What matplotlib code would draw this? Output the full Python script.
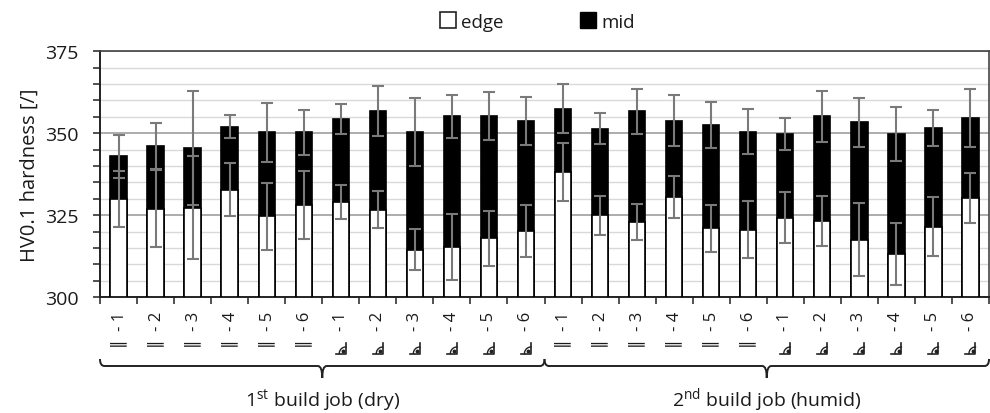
import matplotlib
matplotlib.use("Agg")
import matplotlib.pyplot as plt
import matplotlib.transforms as mtrans
from matplotlib.path import Path
from matplotlib.patches import PathPatch
from matplotlib.lines import Line2D
import numpy as np

plt.rcParams["font.family"] = ["Open Sans", "DejaVu Sans"]
plt.rcParams["mathtext.fontset"] = "custom"
plt.rcParams["mathtext.rm"] = "Open Sans"

# specimen labels: orientation symbol + number, two build jobs
PARALLEL, ANGLED = "\u2225", "\u299d"
orient = [PARALLEL] * 6 + [ANGLED] * 6
numbers = [1, 2, 3, 4, 5, 6] * 2
groups = ["1$^{\\mathrm{st}}$ build job (dry)", "2$^{\\mathrm{nd}}$ build job (humid)"]

mid = [342.9, 346.0, 345.5, 352.0, 350.2, 350.2, 354.4, 356.7, 350.4, 355.1, 355.1, 353.8,
       357.4, 351.4, 356.6, 353.8, 352.4, 350.4, 349.7, 355.1, 353.3, 349.8, 351.7, 354.7]
mid_err = [6.6, 7.0, 17.4, 3.6, 9.0, 7.0, 4.6, 7.7, 10.3, 6.6, 7.3, 7.3,
           7.5, 4.6, 6.9, 7.7, 7.0, 6.9, 4.8, 7.7, 7.5, 8.3, 5.5, 8.8]
edge = [329.8, 327.0, 327.2, 332.8, 324.7, 328.1, 328.9, 326.7, 314.5, 315.2, 318.0, 320.2,
        338.2, 324.9, 322.9, 330.4, 321.0, 320.6, 324.2, 323.2, 317.5, 313.2, 321.4, 330.1]
edge_err = [8.5, 11.7, 15.7, 8.0, 10.2, 10.5, 5.2, 5.7, 6.2, 10.0, 8.4, 7.9,
            8.9, 6.0, 5.4, 6.4, 7.2, 8.6, 7.8, 7.7, 11.1, 9.4, 9.0, 7.6]

base = 300
x = np.arange(len(mid))
w = 0.44
txt = "#1a1a1a"
ink = "#222222"

fig = plt.figure(figsize=(9.9, 4.14), dpi=100)
ax = fig.add_axes([0.101, 0.280, 0.898, 0.594])

ax.bar(x, np.array(mid) - base, w, bottom=base, color="black", edgecolor="black",
       linewidth=1.2, zorder=3)
ax.bar(x, np.array(edge) - base, w, bottom=base, color="white", edgecolor="black",
       linewidth=1.2, zorder=4)
ax.errorbar(x, mid, yerr=mid_err, fmt="none", ecolor="#7a7a7a", elinewidth=1.5,
            capsize=4, capthick=1.5, zorder=5)
ax.errorbar(x, edge, yerr=edge_err, fmt="none", ecolor="#7a7a7a", elinewidth=1.5,
            capsize=4, capthick=1.5, zorder=5)

ax.set_ylim(300, 375)
ax.set_xlim(-0.5, len(mid) - 0.5)
ax.set_yticks([300, 325, 350, 375])
ax.set_yticks(np.arange(300, 376, 5), minor=True)
ax.yaxis.grid(True, which="minor", color="#d9d9d9", linewidth=1.0, zorder=0)
ax.yaxis.grid(True, which="major", color="#a6a6a6", linewidth=1.3, zorder=1)
ax.set_axisbelow(True)
ax.tick_params(axis="y", which="both", direction="out", length=5, width=1.2,
               color="#333333", labelsize=14, labelcolor=txt, pad=10.5)
ax.set_ylabel("HV0.1 hardness [/]", fontsize=14.5, color=txt, labelpad=4)

# the measured-right-angle sign is missing from every installed font,
# so those labels carry only "- n" and the sign is drawn below them
labels = [f"{o}  - {n}" if o == PARALLEL else f"- {n}"
          for o, n in zip(orient, numbers)] * 2
ax.set_xticks(x)
ax.set_xticklabels(labels, rotation=90, fontsize=12, color=txt)
ax.set_xticks(np.arange(-0.5, len(mid), 1), minor=True)
ax.tick_params(axis="x", which="major", length=0, pad=10)
ax.tick_params(axis="x", which="minor", direction="out", length=5, width=1.2,
               color="#333333")

blend = mtrans.blended_transform_factory(ax.transData, fig.transFigure)
th = np.linspace(np.pi / 2, np.pi, 24)
px = 1 / fig.dpi
for xi, o in zip(x, orient * 2):
    if o != ANGLED:
        continue
    tr = fig.dpi_scale_trans + mtrans.ScaledTranslation(xi, 1 - 349 / 414, blend)
    fig.add_artist(Line2D(np.array([-5, 5, 5]) * px, np.array([-5.5, -5.5, 5.5]) * px,
                          color=ink, linewidth=1.2, transform=tr))
    fig.add_artist(Line2D((5 + 6.5 * np.cos(th)) * px, (-5.5 + 6.5 * np.sin(th)) * px,
                          color=ink, linewidth=1.0, transform=tr))
    fig.add_artist(Line2D([2.3 * px], [-3.2 * px], marker="o", markersize=1.8,
                          color=ink, linestyle="none", transform=tr))

for side in ["left", "bottom"]:
    ax.spines[side].set_linewidth(1.4)
    ax.spines[side].set_color(ink)
for side in ["top", "right"]:
    ax.spines[side].set_linewidth(1.2)
    ax.spines[side].set_color("#444444")

# curly braces and group captions under the tick labels
y_end, y_line, y_tip = 1 - 360 / 414, 1 - 367 / 414, 1 - 379 / 414
r = 0.12
n_per = len(mid) // len(groups)
for gi, name in enumerate(groups):
    x0 = gi * n_per - 0.5
    x1 = x0 + n_per
    xm = (x0 + x1) / 2
    verts = [(x0, y_end), (x0, y_line), (x0 + r, y_line),
             (xm - r, y_line), (xm, y_line), (xm, y_tip),
             (xm, y_line), (xm + r, y_line),
             (x1 - r, y_line), (x1, y_line), (x1, y_end)]
    codes = [Path.MOVETO, Path.CURVE3, Path.CURVE3,
             Path.LINETO, Path.CURVE3, Path.CURVE3,
             Path.CURVE3, Path.CURVE3,
             Path.LINETO, Path.CURVE3, Path.CURVE3]
    ax.add_patch(PathPatch(Path(verts, codes), transform=blend, fill=False,
                           edgecolor=ink, linewidth=1.4, clip_on=False))
    ax.text(xm, 1 - 407 / 414, name, transform=blend, ha="center", va="baseline",
            fontsize=14, color=txt)

handles = [Line2D([], [], marker="s", linestyle="none", markersize=11,
                  markerfacecolor="white", markeredgecolor=ink, markeredgewidth=1.2),
           Line2D([], [], marker="s", linestyle="none", markersize=11,
                  markerfacecolor="black", markeredgecolor="black")]
fig.legend(handles, ["edge", "mid"], loc="center", bbox_to_anchor=(0.542, 1 - 23 / 414),
           ncol=2, frameon=False, fontsize=13.5, handletextpad=0.2, columnspacing=4.0,
           labelcolor=txt, handlelength=1.0)

fig.savefig("out.png", dpi=100)
